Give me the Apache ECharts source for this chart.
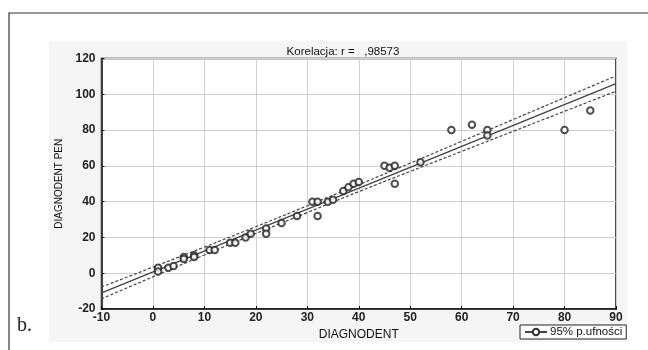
<!DOCTYPE html>
<html>
<head>
<meta charset="utf-8">
<script src="https://cdn.jsdelivr.net/npm/echarts@6/dist/echarts.min.js"></script>
<style>html,body{margin:0;padding:0;background:#fff}#c{width:648px;height:350px}</style>
</head>
<body>
<div id="c"></div>
<script>
// Scatter points (DIAGNODENT, DIAGNODENT PEN)
var pointsX = [1, 1, 3, 4, 6, 6, 8, 8, 11, 12, 15, 16, 18, 19, 22, 22, 25, 28, 31, 32, 32, 34, 35, 37, 38, 39, 40, 45, 46, 47, 47, 52, 58, 62, 65, 65, 80, 85];
var pointsY = [3, 1, 3, 4, 9, 8, 10, 9, 13, 13, 17, 17, 20, 22, 25, 22, 28, 32, 40, 40, 32, 40, 41, 46, 48, 50, 51, 60, 59, 60, 50, 62, 80, 83, 80, 77, 80, 91];
// Regression line endpoints
var fitX = [-10, 90];
var fitY = [-11.0, 106.0];
// 95% confidence bands read at each 10
var bandX = [-10, 0, 10, 20, 30, 40, 50, 60, 70, 80, 90];
var bandUpper = [-7.7, 3.4, 14.6, 26.0, 37.7, 49.5, 61.5, 73.7, 85.9, 98.1, 110.3];
var bandLower = [-14.3, -2.0, 10.2, 22.2, 33.9, 45.6, 56.9, 68.1, 79.3, 90.5, 101.7];
var titleText = 'Korelacja: r =   ,98573';
var xName = 'DIAGNODENT';
var yName = 'DIAGNODENT PEN';
var legendName = '95% p.ufności';

function zip(a, b) { return a.map(function (v, i) { return [v, b[i]]; }); }

var chart = echarts.init(document.getElementById('c'), null, {renderer: 'canvas'});
var font = 'Liberation Sans, Arial, sans-serif';
chart.setOption({
  animation: false,
  backgroundColor: '#fff',
  graphic: [
    {type: 'rect', z: -10, silent: true, shape: {x: 9, y: 13, width: 700, height: 400}, style: {fill: '#fff', stroke: '#333', lineWidth: 1.2}},
    {type: 'rect', z: -9, silent: true, shape: {x: 49, y: 41, width: 578, height: 301}, style: {fill: '#f5f5f5', stroke: null}},
    {type: 'rect', z: -8, silent: true, shape: {x: 101.5, y: 58.5, width: 514.5, height: 250.5}, style: {fill: '#fff', stroke: null}},
    {type: 'text', left: 17, top: 316, style: {text: 'b.', font: '20px Liberation Serif, Times New Roman, serif', fill: '#222'}}
  ],
  title: {
    text: titleText, left: 338, top: 41, textAlign: 'center',
    textStyle: {fontFamily: font, fontSize: 11.5, fontWeight: 'normal', color: '#111'}
  },
  legend: {
    data: [{name: legendName}],
    left: 520, top: 325, orient: 'horizontal',
    borderColor: '#222', borderWidth: 1, padding: [1, 4, 1, 4], itemGap: 4,
    itemWidth: 22, itemHeight: 8, backgroundColor: '#fff',
    textStyle: {fontFamily: font, fontSize: 11.5, color: '#111', padding: [0, 0, 0, -2]}
  },
  grid: {left: 101.5, right: 32, top: 58.5, bottom: 41, containLabel: false, show: true, borderColor: '#111', borderWidth: 1.5, backgroundColor: 'transparent'},
  xAxis: {
    type: 'value', min: -10, max: 90, interval: 10,
    name: xName, nameLocation: 'middle', nameGap: 19,
    nameTextStyle: {fontFamily: font, fontSize: 12, color: '#111'},
    axisLine: {show: true, onZero: false, lineStyle: {color: '#111', width: 1.5}},
    axisTick: {show: true, inside: true, length: 3, lineStyle: {color: '#111'}},
    axisLabel: {fontFamily: font, fontSize: 12, fontWeight: 'bold', color: '#222', margin: 3},
    splitLine: {show: true, lineStyle: {color: '#cfcfcf', width: 1}}
  },
  yAxis: {
    type: 'value', min: -20, max: 120, interval: 20,
    name: yName, nameLocation: 'middle', nameGap: 36, nameRotate: 90,
    nameTextStyle: {fontFamily: font, fontSize: 10, color: '#111'},
    axisLine: {show: true, onZero: false, lineStyle: {color: '#111', width: 1.5}},
    axisTick: {show: true, inside: true, length: 3, lineStyle: {color: '#111'}},
    axisLabel: {fontFamily: font, fontSize: 12, fontWeight: 'bold', color: '#222', margin: 6},
    splitLine: {show: true, lineStyle: {color: '#cfcfcf', width: 1}}
  },
  series: [
    {
      name: 'upper', type: 'line', data: zip(bandX, bandUpper), smooth: true, showSymbol: false, symbol: 'none',
      lineStyle: {color: '#444', width: 1.2, type: [3, 2]}, z: 3
    },
    {
      name: 'lower', type: 'line', data: zip(bandX, bandLower), smooth: true, showSymbol: false, symbol: 'none',
      lineStyle: {color: '#444', width: 1.2, type: [3, 2]}, z: 3
    },
    {
      name: legendName, type: 'line', data: zip(fitX, fitY), showSymbol: false, symbol: 'emptyCircle', symbolSize: 5,
      itemStyle: {color: '#333', borderColor: '#333', borderWidth: 1.1},
      lineStyle: {color: '#444', width: 1.4}, z: 4
    },
    {
      name: 'points', type: 'scatter', data: zip(pointsX, pointsY), symbol: 'emptyCircle', symbolSize: 6.5,
      itemStyle: {color: '#222', borderColor: '#222', borderWidth: 1.2}, z: 5
    }
  ]
});
</script>
</body>
</html>
